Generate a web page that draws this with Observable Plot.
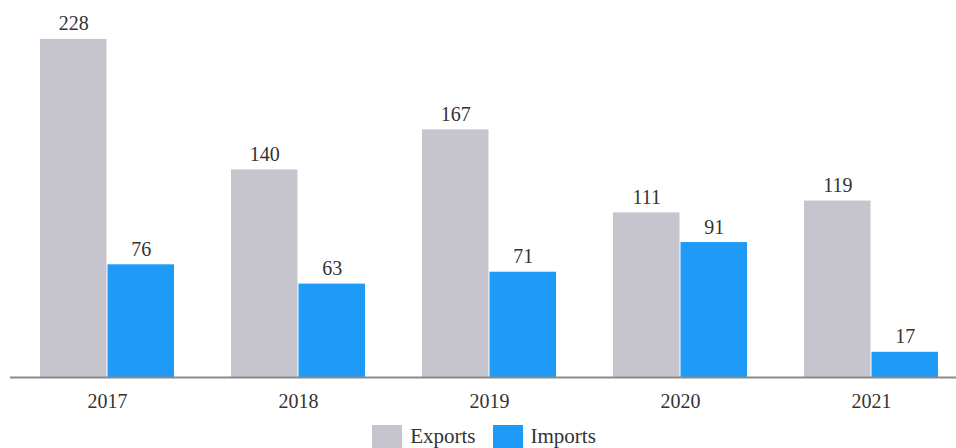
<!DOCTYPE html>
<html>
<head>
<meta charset="utf-8">
<script src="https://cdn.jsdelivr.net/npm/d3@7"></script>
<script src="https://cdn.jsdelivr.net/npm/@observablehq/plot@0.6"></script>
<style>
  body { margin: 0; background: #fff; font-family: "Liberation Serif", "Times New Roman", Tinos, "DejaVu Serif", serif; }
  #chart svg { display: block; }
  #chart svg text { font-family: "Liberation Serif", "Times New Roman", Tinos, "DejaVu Serif", serif; }
  .legend { display: flex; justify-content: center; align-items: center; gap: 17px; margin-top: 6px; font-size: 21px; color: #333; padding-left: 12px; }
  .legend .item { display: flex; align-items: center; gap: 8px; }
  .legend .sw { width: 30px; height: 23px; display: inline-block; }
</style>
</head>
<body>
<div id="chart"></div>
<script>
const years = ["2017", "2018", "2019", "2020", "2021"];
const series = ["Exports", "Imports"];
const exportsValues = [228, 140, 167, 111, 119];
const importsValues = [76, 63, 71, 91, 17];
const colors = ["#c6c5ce", "#1e9af7"];

const exp = years.map((y, i) => ({year: y, series: "Exports", value: exportsValues[i]}));
const imp = years.map((y, i) => ({year: y, series: "Imports", value: importsValues[i]}));

const half = 67.5;
const off = 33.75;
const font = "'Liberation Serif', 'Times New Roman', Tinos, 'DejaVu Serif', serif";

const plot = Plot.plot({
  width: 956,
  height: 418,
  marginLeft: 10,
  marginRight: 0,
  marginTop: 10,
  marginBottom: 41,
  style: {fontFamily: font, fontSize: "20px", color: "#333", background: "#fff"},
  x: {domain: years, paddingInner: 0.3, paddingOuter: 0.12, align: 0.63, label: null, tickSize: 0, tickPadding: 16, fontSize: 20},
  y: {domain: [0, 247.5], axis: null},
  marks: [
    Plot.barY(exp, {x: "year", y: "value", fill: colors[0], insetRight: half}),
    Plot.barY(imp, {x: "year", y: "value", fill: colors[1], insetLeft: half}),
    Plot.text(exp, {x: "year", y: "value", text: d => String(d.value), dx: -off, dy: -9, lineAnchor: "bottom", fill: "#333", fontSize: 20, fontFamily: font}),
    Plot.text(imp, {x: "year", y: "value", text: d => String(d.value), dx: off, dy: -9, lineAnchor: "bottom", fill: "#333", fontSize: 20, fontFamily: font}),
    Plot.ruleY([0], {stroke: "#8a8a8a", strokeWidth: 2})
  ]
});
document.getElementById("chart").appendChild(plot);

const legend = document.createElement("div");
legend.className = "legend";
series.forEach((s, i) => {
  const item = document.createElement("span");
  item.className = "item";
  const sw = document.createElement("span");
  sw.className = "sw";
  sw.style.background = colors[i];
  const t = document.createElement("span");
  t.textContent = s;
  item.appendChild(sw);
  item.appendChild(t);
  legend.appendChild(item);
});
document.getElementById("chart").appendChild(legend);
</script>
</body>
</html>
